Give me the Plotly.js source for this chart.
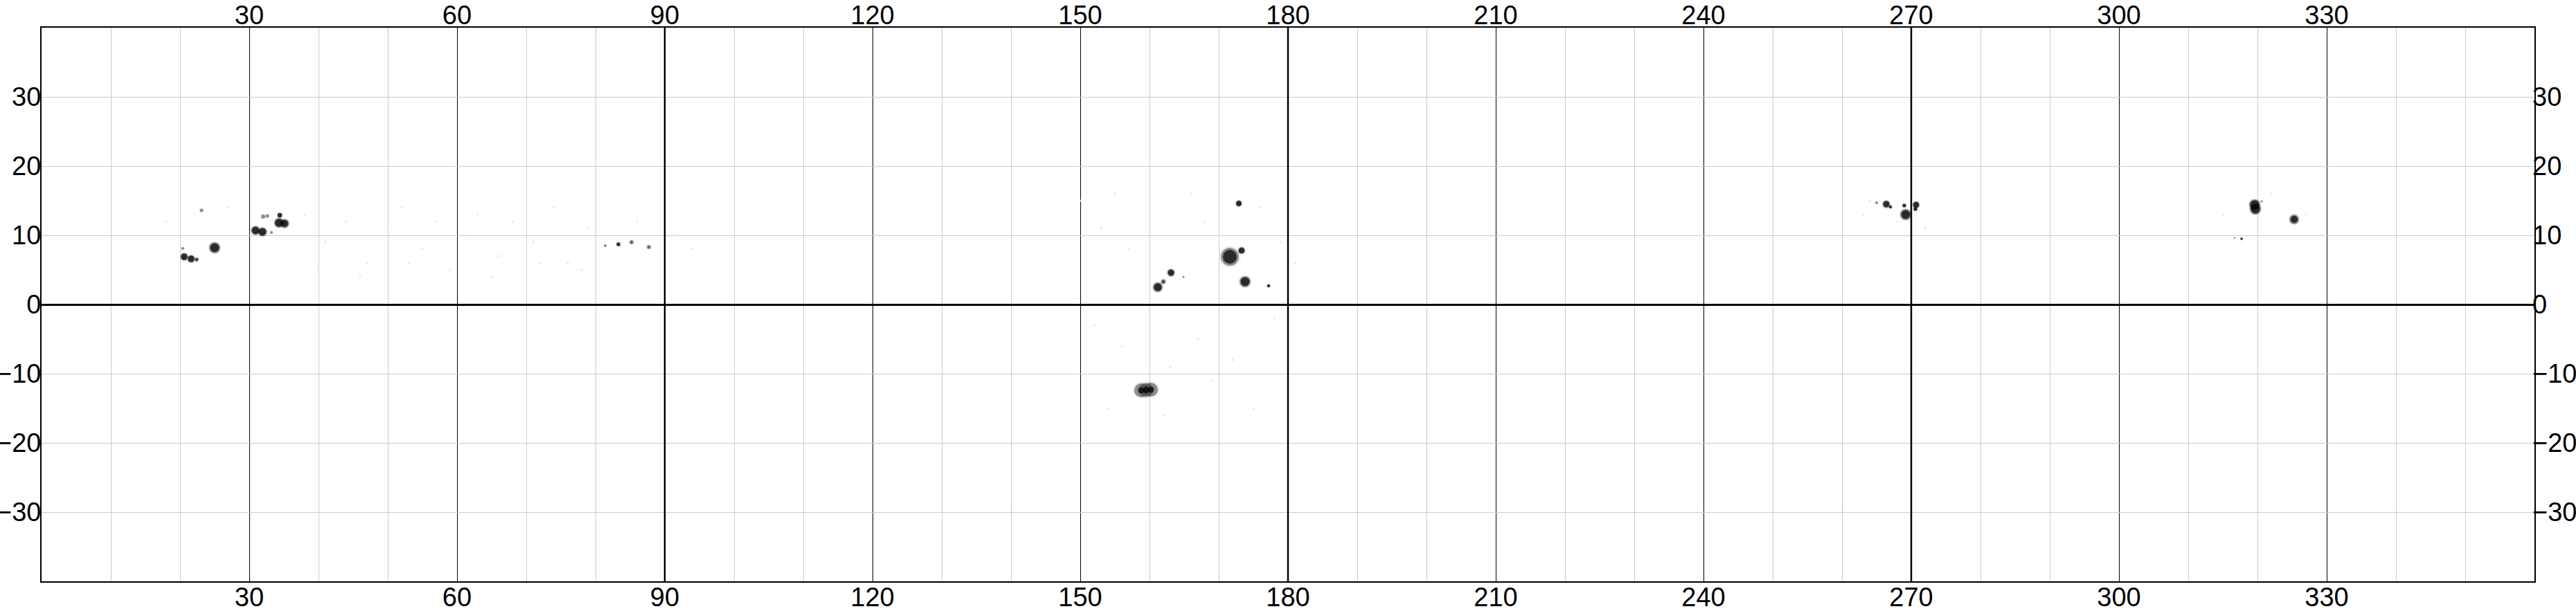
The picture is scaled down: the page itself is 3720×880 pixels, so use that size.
<!DOCTYPE html>
<html>
<head>
<meta charset="utf-8">
<script src="https://cdn.plot.ly/plotly-3.0.1.min.js"></script>
<style>html,body{margin:0;padding:0;background:#fff;}#chart{width:3720px;height:880px;}</style>
</head>
<body>
<div id="chart"></div>
<script>
// Carrington longitude (deg) of each sunspot feature
const spotLon = [20.6, 21.6, 22.4, 25.0, 20.4, 23.1, 30.9, 31.9, 34.3, 35.1, 34.4, 32.0, 32.6, 33.2,
                 81.4, 83.3, 85.2, 87.7,
                 172.9, 171.6, 173.3, 173.8, 177.2, 163.1, 161.2, 162.0, 164.9, 158.8, 159.5, 160.2,
                 266.4, 265.0, 267.0, 269.2, 270.7, 269.0, 270.6,
                 319.6, 319.7, 325.3, 317.7, 316.7, 320.6];
// latitude (deg)
const spotLat = [6.9, 6.6, 6.5, 8.2, 8.1, 13.6, 10.7, 10.5, 11.8, 11.7, 12.9, 12.7, 12.8, 10.4,
                 8.5, 8.7, 9.0, 8.3,
                 14.6, 6.9, 7.8, 3.3, 2.7, 4.6, 2.5, 3.3, 4.0, -12.4, -12.35, -12.3,
                 14.5, 14.7, 14.1, 13.0, 14.4, 14.3, 13.8,
                 14.4, 13.8, 12.3, 9.5, 9.6, 14.9];
// penumbra diameter (deg)
const spotPenumbra = [1.1, 1.1, 0.6, 1.6, 0.4, 0.5, 1.3, 1.3, 1.4, 1.3, 0.75, 0.6, 0.5, 0.4,
                      0.4, 0.6, 0.6, 0.6,
                      0.9, 2.6, 1.0, 1.6, 0.5, 1.1, 1.4, 0.7, 0.3, 2.0, 2.0, 2.0,
                      1.1, 0.4, 0.5, 1.6, 1.0, 0.6, 0.6,
                      1.6, 1.6, 1.4, 0.4, 0.2, 0.3];
// umbra diameter (deg)
const spotUmbra = [0.9, 0.9, 0.35, 1.25, 0, 0, 1.05, 1.05, 1.15, 1.0, 0.6, 0, 0, 0,
                   0, 0.5, 0.2, 0.2,
                   0.75, 2.0, 0.8, 1.25, 0.4, 0.85, 1.1, 0.35, 0, 0.9, 0.95, 0.9,
                   0.85, 0, 0.4, 1.25, 0.8, 0.45, 0.5,
                   1.3, 1.3, 1.0, 0.3, 0.15, 0];

// faint background specks (longitude, latitude)
const speckLon = [18, 27, 38, 41, 44, 47, 50, 52, 55, 57, 61, 63, 66, 68, 71, 74, 76, 79, 92, 94,
                  40, 46, 53, 59, 65, 72, 78, 86, 150, 153, 155, 157, 166, 168, 170, 176, 179, 181,
                  152, 156, 163, 167, 172, 175, 178, 154, 162, 169, 263, 264, 268, 272, 315, 322, 327];
const speckLat = [12, 14, 13, 9, 12, 6, 11, 14, 8, 12, 10, 13, 7, 12, 9, 14, 6, 11, 10, 8,
                  5, 4, 6, 5, 4, 6, 5, 12, 15, 11, 16, 8, 16, 12, 10, 14, 9, 6,
                  -3, -6, -9, -5, -8, -15, -2, -15, -16, -11, 13, 15, 12, 11, 13, 16, 13];

const lonTicks = [30, 60, 90, 120, 150, 180, 210, 240, 270, 300, 330];
const latTicks = [-30, -20, -10, 0, 10, 20, 30];
const majorMeridians = [90, 180, 270];

const pxPerDeg = 10;
const font = {family: 'Liberation Sans, Arial, sans-serif', size: 38, color: '#000'};

const traces = [
  {
    type: 'scatter', mode: 'markers', x: speckLon, y: speckLat, xaxis: 'x', yaxis: 'y',
    hoverinfo: 'skip', showlegend: false,
    marker: {size: 3, color: '#e4e4e4', line: {width: 0}}
  },
  {
    type: 'scatter', mode: 'markers', x: spotLon, y: spotLat, xaxis: 'x', yaxis: 'y',
    hoverinfo: 'skip', showlegend: false,
    marker: {size: spotPenumbra.map(d => d * pxPerDeg * 1.2), color: 'rgba(0,0,0,0.1)', line: {width: 0}}
  },
  {
    type: 'scatter', mode: 'markers', x: spotLon, y: spotLat, xaxis: 'x', yaxis: 'y',
    hoverinfo: 'skip', showlegend: false,
    marker: {size: spotPenumbra.map(d => d * pxPerDeg), color: 'rgba(40,40,40,0.7)', line: {width: 0}}
  },
  {
    type: 'scatter', mode: 'markers', x: spotLon, y: spotLat, xaxis: 'x', yaxis: 'y',
    hoverinfo: 'skip', showlegend: false,
    marker: {size: spotUmbra.map(d => d * pxPerDeg), color: '#000', line: {width: 0}}
  },
  {
    type: 'scatter', mode: 'markers', x: [180], y: [0], xaxis: 'x2', yaxis: 'y2',
    hoverinfo: 'skip', showlegend: false, marker: {opacity: 0}
  }
];

const shapes = majorMeridians.map(m => ({
  type: 'line', xref: 'x', yref: 'paper', x0: m, x1: m, y0: 0, y1: 1,
  line: {color: '#000', width: 2.5}, layer: 'above'
}));

const layout = {
  width: 3720, height: 880,
  margin: {l: 60, r: 60, t: 40, b: 40, pad: 0},
  paper_bgcolor: '#fff', plot_bgcolor: '#fff',
  font: font,
  showlegend: false,
  xaxis: {
    range: [0, 360], tickmode: 'array', tickvals: lonTicks, ticks: '',
    showgrid: true, gridcolor: '#000', gridwidth: 1,
    minor: {tickmode: 'linear', tick0: 0, dtick: 10, showgrid: true, gridcolor: '#cccccc', gridwidth: 1},
    zeroline: false, showline: true, mirror: true, linecolor: '#000', linewidth: 2,
    tickfont: font, fixedrange: true, ticklabelstandoff: -12
  },
  xaxis2: {
    range: [0, 360], overlaying: 'x', side: 'top', anchor: 'y2', tickmode: 'array', tickvals: lonTicks,
    ticks: '', showgrid: false, zeroline: false, showline: false, tickfont: font, fixedrange: true,
    ticklabelstandoff: -4
  },
  yaxis: {
    range: [-40, 40], tickmode: 'array', tickvals: latTicks, ticks: '',
    showgrid: true, gridcolor: '#cccccc', gridwidth: 1,
    zeroline: true, zerolinecolor: '#000', zerolinewidth: 3,
    showline: true, mirror: true, linecolor: '#000', linewidth: 2,
    tickfont: font, fixedrange: true, ticklabelstandoff: -9
  },
  yaxis2: {
    range: [-40, 40], overlaying: 'y', side: 'right', anchor: 'x2', tickmode: 'array', tickvals: latTicks,
    ticks: '', showgrid: false, zeroline: false, showline: false, tickfont: font, fixedrange: true,
    ticklabelstandoff: -4
  },
  shapes: shapes
};

Plotly.newPlot('chart', traces, layout, {staticPlot: true, displayModeBar: false});
</script>
</body>
</html>
